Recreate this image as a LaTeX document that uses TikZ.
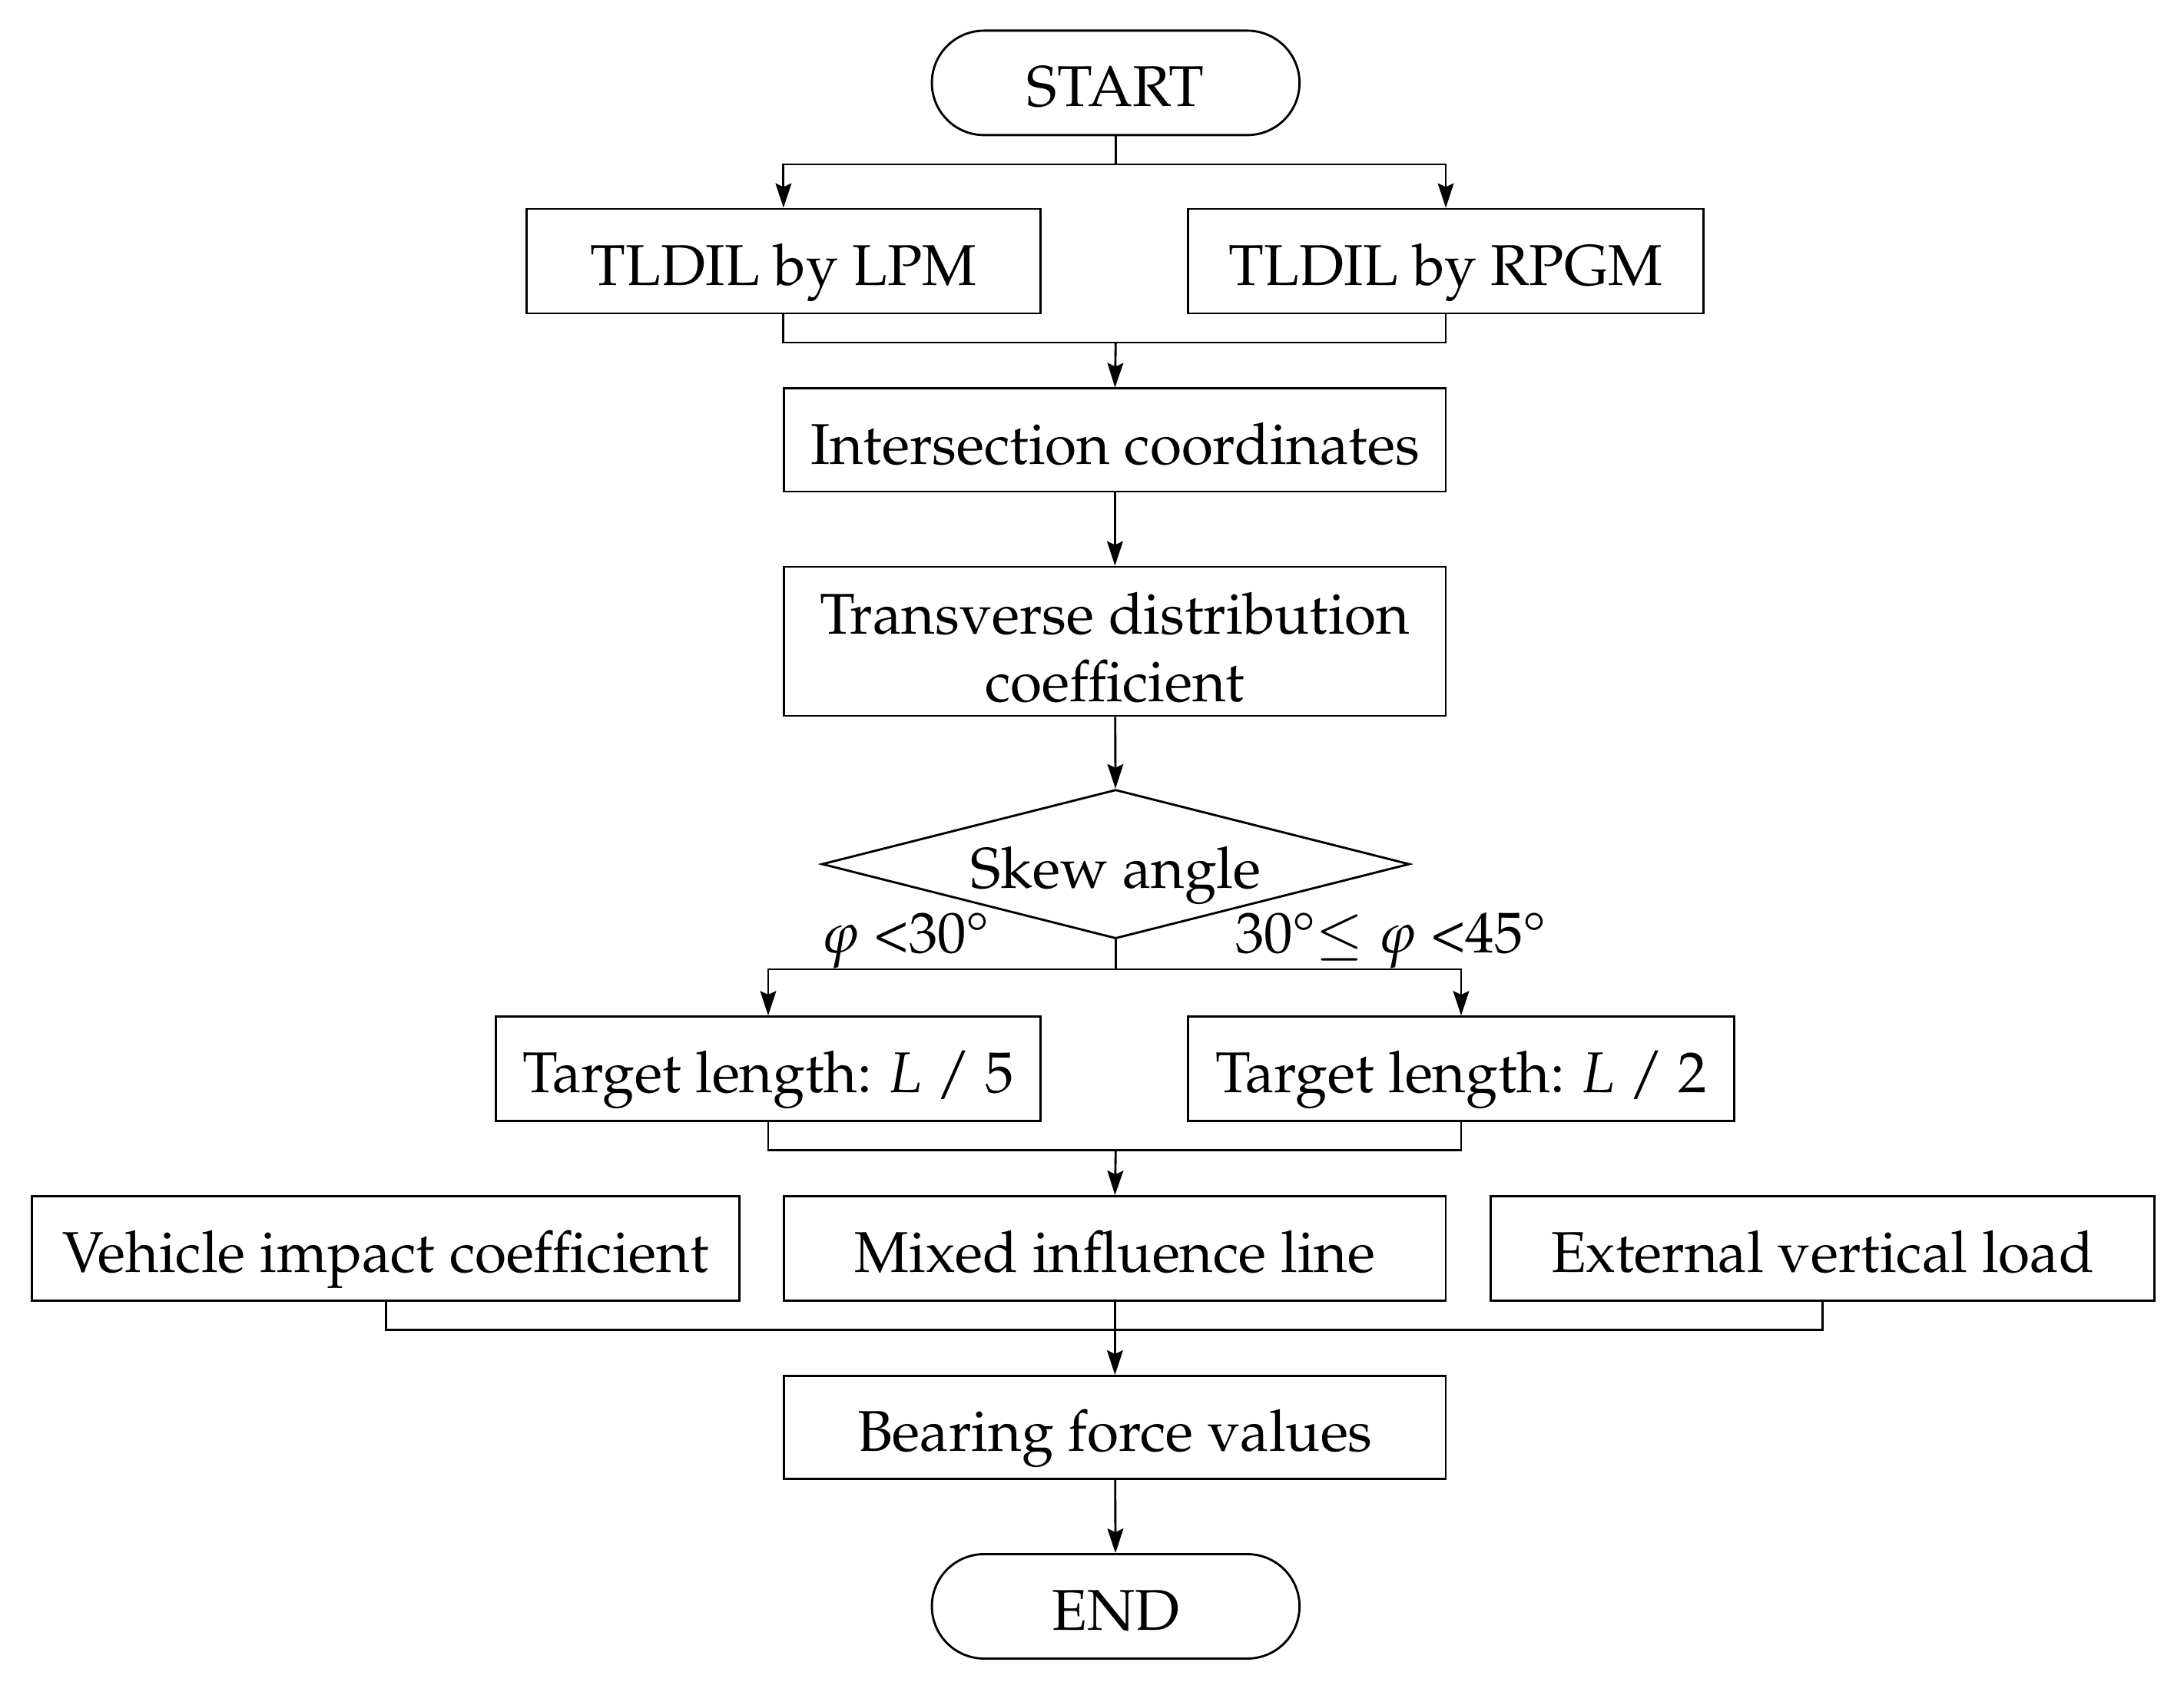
\documentclass[tikz,border=0pt]{standalone}
\usepackage[T1]{fontenc}
\usepackage{mathpazo}
\usepackage{amsmath}
\usepackage{tikz}
\usetikzlibrary{
	arrows.meta,
	positioning,
	calc,
	shapes.geometric,
	shapes.misc
}
\usepackage{xcolor}

\begin{document}
\begin{tikzpicture}[>={Stealth[length=10pt,width=6.5pt,inset=1.5pt]},x=0.02cm,y=-0.02cm,
		every node/.style={font=\fontsize{23.5}{27.5}\selectfont},
		box/.style={draw,line width=0.9pt,rectangle,minimum height=1.5cm,inner sep=0pt,align=center,text height=19.5pt,text depth=0pt},
		term/.style={draw,line width=0.9pt,rounded rectangle,minimum width=5.28cm,minimum height=1.5cm,inner sep=0pt,text height=19.5pt,text depth=0pt},
		decide/.style={draw,line width=0.9pt,diamond,aspect=3.9,minimum width=8.44cm,minimum height=2.14cm,inner sep=0pt,text height=19.5pt,text depth=0pt},
		flow/.style={->,line width=0.9pt}]
			
			\useasboundingbox (0,0) rectangle (1568,1215);
			
			\node[term] (start) at (801,59.5){START};
			
			\node[box,minimum width=7.38cm] (lpm) at (562.5,187.5){TLDIL by LPM};
			\node[box,minimum width=7.4cm] (rpgm) at (1038,187.5){TLDIL by RPGM};
			
			\node[box,minimum width=9.5cm,minimum height=1.48cm] (inter) at (800.5,316){Intersection coordinates};
			\node[box,minimum width=9.5cm,minimum height=2.14cm,text height=,text depth=] (trans) at (800.5,460.5){\rule{0pt}{0.95em}Transverse distribution\\coefficient};
			
			\node[decide] (skew) at (801,620.5){Skew angle};
			
			\node[box,minimum width=7.82cm] (lfive) at (551.5,767.5){Target length: \textit{L} / 5};
			\node[box,minimum width=7.84cm] (ltwo) at (1049,767.5){Target length: \textit{L} / 2};
			
			\node[box,minimum width=10.16cm] (vehicle) at (277,896.5){Vehicle impact coefficient};
			\node[box,minimum width=9.5cm] (mixed) at (800.5,896.5){Mixed influence line};
			\node[box,minimum width=9.54cm] (external) at (1308.5,896.5){External vertical load};
			
			\node[box,minimum width=9.5cm,minimum height=1.48cm] (bearing) at (800.5,1025){Bearing force values};
			
			\node[term] (end) at (801,1153.5){END};
			
			\coordinate (split) at (801,118);
			\coordinate (joinA) at (801,246);
			\coordinate (branch) at (801,696);
			\coordinate (joinB) at (801,826);
			\coordinate (joinC) at (801,955);
			
			\draw[flow](start.south)--(split)-|(lpm.north);
			\draw[flow](split)-|(rpgm.north);
			
			\draw[line width=0.9pt](lpm.south)|-(joinA);
			\draw[line width=0.9pt](rpgm.south)|-(joinA);
			\draw[flow](joinA)--(inter.north);
			
			\draw[flow](inter)--(trans);
			\draw[flow](trans)--(skew);
			
			\draw[flow](skew.south)--(branch)-|(lfive.north);
			\draw[flow](branch)-|(ltwo.north);
			
			\node[anchor=base,inner sep=0pt] (lessthirty) at (650,684){$\varphi$ \textless30\textdegree};
			\node[anchor=base,inner sep=0pt] (thirtyfortyfive) at (998.5,684){30\textdegree$\leq$ $\varphi$ \textless45\textdegree};
			
			\draw[line width=0.9pt](lfive.south)|-(joinB);
			\draw[line width=0.9pt](ltwo.south)|-(joinB);
			\draw[flow](joinB)--(mixed.north);
			
			\draw[line width=0.9pt](vehicle.south)|-(joinC);
			\draw[line width=0.9pt](external.south)|-(joinC);
			\draw[flow](mixed.south)--(bearing.north);
			
			\draw[flow](bearing)--(end);
			
		\end{tikzpicture}
\end{document}
